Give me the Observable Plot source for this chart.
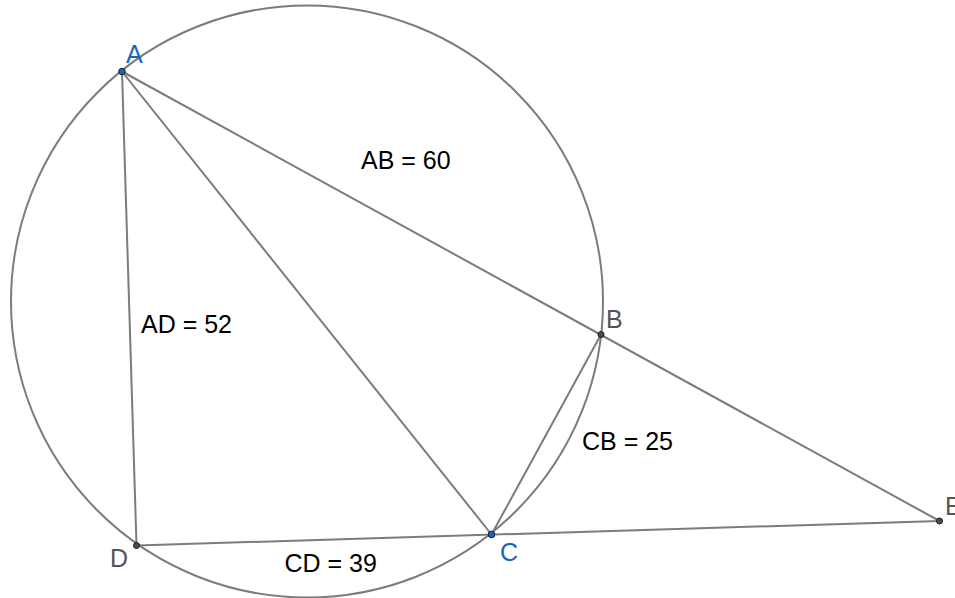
<!DOCTYPE html>
<html><head><meta charset="utf-8">
<script src="https://cdn.jsdelivr.net/npm/d3@7"></script>
<script src="https://cdn.jsdelivr.net/npm/@observablehq/plot@0.6"></script>
<style>html,body{margin:0;padding:0;background:#fff}svg{display:block}</style>
</head><body><div id="chart"></div>
<script>
// Points of the figure (y axis points up)
const pointNames = ["A", "B", "C", "D", "E"];
const pointX = [121.5, 600.5, 491, 136, 939];
const pointY = [527, 264, 64, 53, 77.5];
const pointFree = [true, false, true, false, false];

// Segments drawn between named points
const segmentFrom = ["A", "A", "A", "D", "B"];
const segmentTo   = ["E", "D", "C", "E", "C"];

// Circle through A, B, C, D
const circleCenterX = 306.5;
const circleCenterY = 297;
const circleRadius = 296;

// Length annotations
const measureText = ["AB = 60", "AD = 52", "CB = 25", "CD = 39"];
const measureX = [360.5, 140.5, 581.5, 284];
const measureY = [430, 266, 148.5, 27];

// Label offsets (pixels) for point names
const labelOffset = {A: [4, 9], B: [5, 7], C: [8.5, -26], D: [-26.5, -21.7], E: [5.5, 6.5]};

const points = pointNames.map((n, i) => ({name: n, x: pointX[i], y: pointY[i], free: pointFree[i]}));
const byName = Object.fromEntries(points.map(p => [p.name, p]));
const segments = segmentFrom.map((f, i) => ({a: byName[f], b: byName[segmentTo[i]]}));
const measures = measureText.map((t, i) => ({text: t, x: measureX[i], y: measureY[i]}));

const lineColor = "#7c7c7c";
const blue = "#1565c0";

const chart = Plot.plot({
  width: 955,
  height: 598,
  margin: 0,
  style: {fontFamily: "'Liberation Sans', Arial, sans-serif", background: "#fff"},
  x: {domain: [0, 955], axis: null},
  y: {domain: [0, 598], axis: null},
  marks: [
    Plot.dot([{x: circleCenterX, y: circleCenterY}], {x: "x", y: "y", r: circleRadius, fill: "none", stroke: lineColor, strokeWidth: 2}),
    Plot.link(segments, {x1: d => d.a.x, y1: d => d.a.y, x2: d => d.b.x, y2: d => d.b.y, stroke: lineColor, strokeWidth: 2}),
    Plot.dot(points, {x: "x", y: "y", r: d => d.free ? 4.8 : 4, fill: d => d.free ? blue : "#4d4d4d", stroke: "#1a1a1a", strokeWidth: 1}),
    Plot.text(points, {x: d => d.x + labelOffset[d.name][0], y: d => d.y + labelOffset[d.name][1], text: "name",
      textAnchor: "start", lineAnchor: "bottom", fontSize: 25, fill: d => d.free ? blue : "#555555"}),
    Plot.text(measures, {x: "x", y: "y", text: "text", textAnchor: "start", lineAnchor: "bottom", fontSize: 25, fill: "#000"})
  ]
});
document.getElementById("chart").appendChild(chart);
</script>
</body></html>
